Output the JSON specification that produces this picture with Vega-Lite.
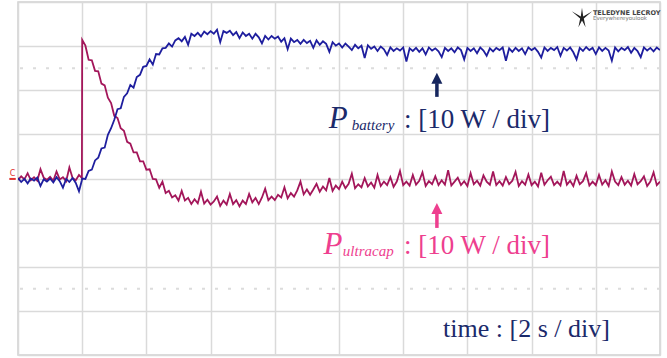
{
  "$schema": "https://vega.github.io/schema/vega-lite/v6.json",
  "width": 642,
  "height": 353,
  "autosize": "none",
  "padding": {"left": 18, "top": 2, "right": 7, "bottom": 3},
  "background": "white",
  "config": {
    "view": {"stroke": "#cfcfcf", "strokeWidth": 1.5},
    "axis": {"grid": true, "labels": false, "ticks": false, "domain": false, "gridColor": "#dadada", "gridWidth": 1.5},
    "axisX": {"tickCount": 10},
    "axisY": {"tickCount": 8}
  },
  "datasets": {
    "traces": [
      {"t":0.0,"b":0.1,"u":-0.3},{"t":0.1,"b":-0.8,"u":0.5},{"t":0.2,"b":-0.1,"u":-0.2},{"t":0.3,"b":-1.1,"u":1.2},{"t":0.4,"b":0.0,"u":-0.4},
      {"t":0.5,"b":-0.5,"u":0.3},{"t":0.6,"b":0.2,"u":-0.5},{"t":0.7,"b":-1.7,"u":2.1},{"t":0.8,"b":-0.2,"u":0.2},{"t":0.9,"b":-0.7,"u":-0.3},
      {"t":1.0,"b":0.0,"u":0.4},{"t":1.1,"b":-0.9,"u":-0.5},{"t":1.2,"b":0.3,"u":1.6},{"t":1.3,"b":-0.6,"u":-0.2},{"t":1.4,"b":-2.1,"u":0.3},
      {"t":1.5,"b":-0.1,"u":-0.6},{"t":1.6,"b":-0.8,"u":2.5},{"t":1.7,"b":0.1,"u":0.1},{"t":1.8,"b":-1.0,"u":-0.4},{"t":1.9,"b":-2.9,"u":0.8},
      {"t":1.99,"b":-0.4,"u":0.1},
      {"t":2.0,"b":0.0,"u":31.4},{"t":2.1,"b":-0.1,"u":30.1},{"t":2.2,"b":1.7,"u":26.9},{"t":2.3,"b":2.0,"u":26.8},{"t":2.4,"b":4.1,"u":24.4},
      {"t":2.5,"b":4.7,"u":24.3},{"t":2.6,"b":6.8,"u":21.5},{"t":2.7,"b":7.0,"u":21.1},{"t":2.8,"b":9.9,"u":18.3},{"t":2.9,"b":11.4,"u":17.1},
      {"t":3.0,"b":13.3,"u":14.2},{"t":3.1,"b":15.7,"u":13.7},{"t":3.2,"b":15.9,"u":11.4},{"t":3.3,"b":18.5,"u":10.8},{"t":3.4,"b":19.3,"u":8.3},
      {"t":3.5,"b":21.2,"u":7.9},{"t":3.6,"b":20.6,"u":5.9},{"t":3.7,"b":23.0,"u":5.9},{"t":3.8,"b":23.5,"u":3.9},{"t":3.9,"b":25.3,"u":3.9},
      {"t":4.0,"b":25.5,"u":2.0},{"t":4.1,"b":27.0,"u":2.1},{"t":4.2,"b":25.8,"u":-0.1},{"t":4.3,"b":28.2,"u":-0.2},{"t":4.4,"b":28.1,"u":-2.1},
      {"t":4.5,"b":29.5,"u":-0.7},{"t":4.6,"b":29.6,"u":-3.3},{"t":4.7,"b":30.6,"u":-2.8},{"t":4.8,"b":29.9,"u":-4.3},{"t":4.9,"b":31.3,"u":-3.8},
      {"t":5.0,"b":31.8,"u":-5.0},{"t":5.1,"b":31.1,"u":-2.8},{"t":5.2,"b":32.1,"u":-5.0},{"t":5.3,"b":30.3,"u":-4.4},{"t":5.4,"b":32.8,"u":-5.8},
      {"t":5.5,"b":32.3,"u":-4.7},{"t":5.6,"b":33.0,"u":-5.6},{"t":5.7,"b":32.2,"u":-3.0},{"t":5.8,"b":33.3,"u":-5.7},{"t":5.9,"b":32.7,"u":-4.8},
      {"t":6.0,"b":33.4,"u":-5.9},{"t":6.1,"b":32.8,"u":-5.2},{"t":6.2,"b":33.7,"u":-4.1},{"t":6.3,"b":30.9,"u":-6.2},{"t":6.4,"b":33.4,"u":-5.0},
      {"t":6.5,"b":33.0,"u":-5.9},{"t":6.6,"b":33.5,"u":-3.5},{"t":6.7,"b":32.5,"u":-5.8},{"t":6.8,"b":33.2,"u":-4.9},{"t":6.9,"b":31.8,"u":-6.3},
      {"t":7.0,"b":33.1,"u":-5.0},{"t":7.1,"b":32.3,"u":-5.8},{"t":7.2,"b":32.8,"u":-3.5},{"t":7.3,"b":31.7,"u":-5.4},{"t":7.4,"b":32.8,"u":-4.4},
      {"t":7.5,"b":32.0,"u":-5.8},{"t":7.6,"b":30.6,"u":-4.3},{"t":7.7,"b":32.3,"u":-2.3},{"t":7.8,"b":31.5,"u":-4.9},{"t":7.9,"b":32.3,"u":-4.1},
      {"t":8.0,"b":31.7,"u":-4.9},{"t":8.1,"b":32.2,"u":-3.7},{"t":8.2,"b":31.0,"u":-4.3},{"t":8.3,"b":31.8,"u":-2.0},{"t":8.4,"b":29.3,"u":-4.5},
      {"t":8.5,"b":31.7,"u":-3.3},{"t":8.6,"b":30.9,"u":-4.1},{"t":8.7,"b":31.4,"u":-2.7},{"t":8.8,"b":30.5,"u":-0.7},{"t":8.9,"b":31.4,"u":-3.6},
      {"t":9.0,"b":30.7,"u":-2.5},{"t":9.1,"b":31.2,"u":-3.7},{"t":9.2,"b":29.6,"u":-2.5},{"t":9.3,"b":31.3,"u":-1.2},{"t":9.4,"b":30.3,"u":-3.0},
      {"t":9.5,"b":31.1,"u":-1.8},{"t":9.6,"b":30.5,"u":-2.7},{"t":9.7,"b":28.7,"u":0.1},{"t":9.8,"b":30.9,"u":-2.8},{"t":9.9,"b":30.1,"u":-1.6},
      {"t":10.0,"b":30.6,"u":-2.4},{"t":10.1,"b":29.7,"u":-0.7},{"t":10.2,"b":30.6,"u":-2.2},{"t":10.3,"b":29.9,"u":-1.2},{"t":10.4,"b":29.1,"u":1.1},
      {"t":10.5,"b":30.3,"u":-2.2},{"t":10.6,"b":29.5,"u":-1.3},{"t":10.7,"b":30.1,"u":-2.0},{"t":10.8,"b":27.3,"u":0.1},{"t":10.9,"b":30.2,"u":-1.8},
      {"t":11.0,"b":29.4,"u":-0.9},{"t":11.1,"b":29.9,"u":-2.1},{"t":11.2,"b":28.9,"u":0.8},{"t":11.3,"b":29.9,"u":-1.7},{"t":11.4,"b":29.3,"u":-0.7},
      {"t":11.5,"b":28.0,"u":-1.5},{"t":11.6,"b":29.7,"u":0.3},{"t":11.7,"b":28.9,"u":-1.9},{"t":11.8,"b":29.5,"u":-0.7},{"t":11.9,"b":29.0,"u":1.7},
      {"t":12.0,"b":29.7,"u":-1.5},{"t":12.1,"b":26.5,"u":-0.7},{"t":12.2,"b":29.5,"u":-1.6},{"t":12.3,"b":28.9,"u":0.8},{"t":12.4,"b":29.6,"u":-1.4},
      {"t":12.5,"b":28.7,"u":-0.5},{"t":12.6,"b":29.5,"u":1.4},{"t":12.7,"b":28.1,"u":-1.7},{"t":12.8,"b":29.7,"u":-0.6},{"t":12.9,"b":29.0,"u":-1.3},
      {"t":13.0,"b":29.5,"u":0.5},{"t":13.1,"b":28.8,"u":-1.5},{"t":13.2,"b":27.5,"u":-0.4},{"t":13.3,"b":29.6,"u":-1.4},{"t":13.4,"b":28.9,"u":1.9},
      {"t":13.5,"b":29.5,"u":-1.6},{"t":13.6,"b":28.6,"u":-0.7},{"t":13.7,"b":29.7,"u":0.2},{"t":13.8,"b":29.1,"u":-1.5},{"t":13.9,"b":27.0,"u":-0.6},
      {"t":14.0,"b":29.6,"u":-1.7},{"t":14.1,"b":28.9,"u":1.2},{"t":14.2,"b":29.5,"u":-1.3},{"t":14.3,"b":28.4,"u":-0.5},{"t":14.4,"b":29.7,"u":-1.6},
      {"t":14.5,"b":29.0,"u":0.7},{"t":14.6,"b":27.8,"u":-0.7},{"t":14.7,"b":29.5,"u":-1.4},{"t":14.8,"b":28.8,"u":1.6},{"t":14.9,"b":29.6,"u":-1.5},
      {"t":15.0,"b":29.1,"u":-0.6},{"t":15.1,"b":29.7,"u":-1.6},{"t":15.2,"b":26.7,"u":0.3},{"t":15.3,"b":29.5,"u":-1.3},{"t":15.4,"b":28.7,"u":-0.5},
      {"t":15.5,"b":29.6,"u":1.5},{"t":15.6,"b":28.9,"u":-1.7},{"t":15.7,"b":29.5,"u":-0.6},{"t":15.8,"b":28.2,"u":-1.4},{"t":15.9,"b":29.7,"u":0.9},
      {"t":16.0,"b":29.1,"u":-1.5},{"t":16.1,"b":29.6,"u":-0.7},{"t":16.2,"b":28.7,"u":-1.8},{"t":16.3,"b":27.4,"u":1.3},{"t":16.4,"b":29.7,"u":-1.4},
      {"t":16.5,"b":28.9,"u":-0.4},{"t":16.6,"b":29.6,"u":0.4},{"t":16.7,"b":29.1,"u":-1.5},{"t":16.8,"b":29.8,"u":-0.7},{"t":16.9,"b":27.8,"u":-1.6},
      {"t":17.0,"b":29.6,"u":1.7},{"t":17.1,"b":29.0,"u":-1.4},{"t":17.2,"b":29.7,"u":-0.5},{"t":17.3,"b":28.6,"u":-1.7},{"t":17.4,"b":27.0,"u":0.6},
      {"t":17.5,"b":29.6,"u":-1.3},{"t":17.6,"b":28.9,"u":-0.6},{"t":17.7,"b":29.8,"u":1.2},{"t":17.8,"b":29.1,"u":-1.6},{"t":17.9,"b":29.6,"u":-0.7},
      {"t":18.0,"b":28.2,"u":-1.5},{"t":18.1,"b":29.7,"u":0.8},{"t":18.2,"b":28.9,"u":-1.4},{"t":18.3,"b":29.6,"u":-0.4},{"t":18.4,"b":29.0,"u":-1.7},
      {"t":18.5,"b":26.7,"u":1.6},{"t":18.6,"b":29.7,"u":-0.7},{"t":18.7,"b":28.8,"u":-1.5},{"t":18.8,"b":29.6,"u":0.3},{"t":18.9,"b":29.1,"u":-1.4},
      {"t":19.0,"b":29.8,"u":-0.5},{"t":19.1,"b":28.5,"u":-1.6},{"t":19.2,"b":29.6,"u":1.0},{"t":19.3,"b":28.9,"u":-1.3},{"t":19.4,"b":27.5,"u":-0.6},
      {"t":19.5,"b":29.7,"u":0.5},{"t":19.6,"b":29.0,"u":-1.7},{"t":19.7,"b":29.6,"u":-0.7},{"t":19.8,"b":28.8,"u":1.4},{"t":19.9,"b":29.7,"u":-1.5},
      {"t":20.0,"b":29.1,"u":-0.7}
    ]
  },
  "layer": [
    {
      "data": {"values": [{"v": 25}, {"v": -25}]},
      "mark": {"type": "rule", "color": "#dcdcdc", "strokeWidth": 2, "strokeDash": [3, 10]},
      "encoding": {
        "y": {"field": "v", "type": "quantitative", "title": null, "scale": {"domain": [-40, 40], "nice": false, "zero": false}}
      }
    },
    {
      "data": {"name": "traces"},
      "mark": {"type": "line", "color": "#a3165a", "strokeWidth": 1.8, "clip": true},
      "encoding": {
        "x": {"field": "t", "type": "quantitative", "title": null, "scale": {"domain": [0, 20], "nice": false, "zero": false}},
        "y": {"field": "u", "type": "quantitative", "title": null}
      }
    },
    {
      "data": {"name": "traces"},
      "mark": {"type": "line", "color": "#1e1e9e", "strokeWidth": 1.8, "clip": true},
      "encoding": {
        "x": {"field": "t", "type": "quantitative", "title": null},
        "y": {"field": "b", "type": "quantitative", "title": null}
      }
    },
    {
      "data": {"values": [{"name": "battery", "x": 13.05, "y1": 21.6, "y2": 18.5}, {"name": "ultracap", "x": 13.05, "y1": -7.6, "y2": -11.2}]},
      "mark": {"type": "rule", "strokeWidth": 3.5},
      "encoding": {
        "x": {"field": "x", "type": "quantitative", "title": null},
        "y": {"field": "y1", "type": "quantitative", "title": null},
        "y2": {"field": "y2"},
        "color": {"field": "name", "type": "nominal", "scale": {"domain": ["battery", "ultracap"], "range": ["#16265e", "#ee3f8f"]}, "legend": null}
      }
    },
    {
      "data": {"values": [{"name": "battery", "x": 13.05, "y": 22.7}, {"name": "ultracap", "x": 13.05, "y": -6.8}]},
      "mark": {"type": "point", "shape": "M0,-1L1,1L-1,1Z", "filled": true, "size": 121, "opacity": 1},
      "encoding": {
        "x": {"field": "x", "type": "quantitative", "title": null},
        "y": {"field": "y", "type": "quantitative", "title": null},
        "color": {"field": "name", "type": "nominal", "legend": null}
      }
    },
    {
      "data": {"values": [{}]},
      "mark": {"type": "text", "text": "P", "font": "Liberation Serif", "fontStyle": "italic", "fontSize": 31, "color": "#1b2a6b", "align": "left", "baseline": "alphabetic"},
      "encoding": {"x": {"datum": 9.68, "type": "quantitative"}, "y": {"datum": 11.44, "type": "quantitative"}}
    },
    {
      "data": {"values": [{}]},
      "mark": {"type": "text", "text": "battery", "font": "Liberation Serif", "fontStyle": "italic", "fontSize": 15, "color": "#1b2a6b", "align": "left", "baseline": "alphabetic"},
      "encoding": {"x": {"datum": 10.4, "type": "quantitative"}, "y": {"datum": 10.99, "type": "quantitative"}}
    },
    {
      "data": {"values": [{}]},
      "mark": {"type": "text", "text": ": [10 W / div]", "font": "Liberation Serif", "fontSize": 27, "color": "#1b2a6b", "align": "right", "baseline": "alphabetic"},
      "encoding": {"x": {"datum": 16.57, "type": "quantitative"}, "y": {"datum": 11.44, "type": "quantitative"}}
    },
    {
      "data": {"values": [{}]},
      "mark": {"type": "text", "text": "P", "font": "Liberation Serif", "fontStyle": "italic", "fontSize": 31, "color": "#ee3f8f", "align": "left", "baseline": "alphabetic"},
      "encoding": {"x": {"datum": 9.52, "type": "quantitative"}, "y": {"datum": -17.11, "type": "quantitative"}}
    },
    {
      "data": {"values": [{}]},
      "mark": {"type": "text", "text": "ultracap", "font": "Liberation Serif", "fontStyle": "italic", "fontSize": 15, "color": "#ee3f8f", "align": "left", "baseline": "alphabetic"},
      "encoding": {"x": {"datum": 10.12, "type": "quantitative"}, "y": {"datum": -17.56, "type": "quantitative"}}
    },
    {
      "data": {"values": [{}]},
      "mark": {"type": "text", "text": ": [10 W / div]", "font": "Liberation Serif", "fontSize": 27, "color": "#ee3f8f", "align": "right", "baseline": "alphabetic"},
      "encoding": {"x": {"datum": 16.57, "type": "quantitative"}, "y": {"datum": -17.11, "type": "quantitative"}}
    },
    {
      "data": {"values": [{}]},
      "mark": {"type": "text", "text": "time : [2 s / div]", "font": "Liberation Serif", "fontSize": 26, "color": "#1b2a6b", "align": "right", "baseline": "alphabetic"},
      "encoding": {"x": {"datum": 18.44, "type": "quantitative"}, "y": {"datum": -35.85, "type": "quantitative"}}
    },
    {
      "data": {"values": [{}]},
      "mark": {"type": "point", "shape": "M-1,-0.55L-0.12,-0.05L0,-0.9L0.12,-0.05L1,-0.55L0.18,0.15L0.35,1L0,0.35L-0.35,1L-0.18,0.15Z", "filled": true, "size": 420, "color": "#222222", "opacity": 1},
      "encoding": {"x": {"datum": 17.57, "type": "quantitative"}, "y": {"datum": 36.6, "type": "quantitative"}}
    },
    {
      "data": {"values": [{}]},
      "mark": {"type": "text", "text": "TELEDYNE LECROY", "font": "DejaVu Sans", "fontWeight": "bold", "fontSize": 6.5, "color": "#444444", "align": "left", "baseline": "alphabetic"},
      "encoding": {"x": {"datum": 17.91, "type": "quantitative"}, "y": {"datum": 37.05, "type": "quantitative"}}
    },
    {
      "data": {"values": [{}]},
      "mark": {"type": "text", "text": "Everywhereyoulook", "font": "DejaVu Sans", "fontSize": 5.5, "color": "#777777", "align": "left", "baseline": "alphabetic"},
      "encoding": {"x": {"datum": 17.91, "type": "quantitative"}, "y": {"datum": 35.81, "type": "quantitative"}}
    },
    {
      "data": {"values": [{}]},
      "mark": {"type": "text", "text": "C", "font": "DejaVu Sans", "fontSize": 8, "color": "#e03030", "align": "center", "baseline": "alphabetic"},
      "encoding": {"x": {"datum": -0.17, "type": "quantitative"}, "y": {"datum": 0.6, "type": "quantitative"}}
    },
    {
      "data": {"values": [{}]},
      "mark": {"type": "rule", "color": "#e03030", "strokeWidth": 2},
      "encoding": {"x": {"datum": -0.27, "type": "quantitative"}, "x2": {"datum": -0.07}, "y": {"datum": -0.1, "type": "quantitative"}}
    }
  ]
}
